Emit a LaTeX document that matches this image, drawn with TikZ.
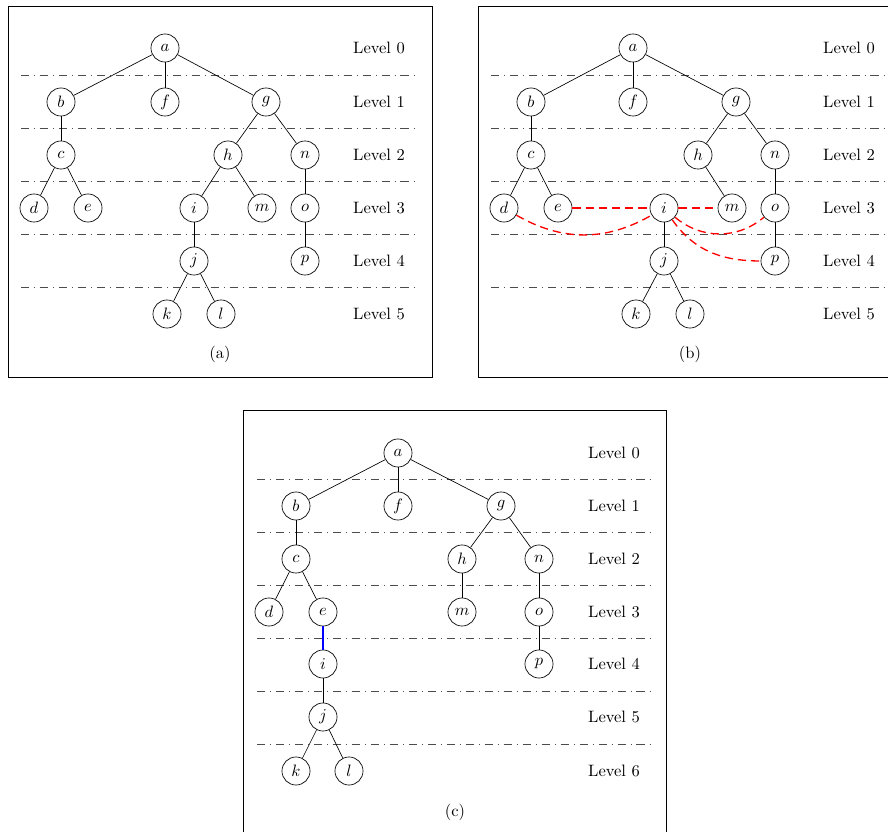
\documentclass[tikz,border=0pt]{standalone}
\usepackage{tikz}
\usetikzlibrary{positioning}

\begin{document}
\begin{tikzpicture}[x=0.0213cm,y=0.0213cm,
  vtx/.style={draw,circle,minimum size=17pt,inner sep=0pt},
  lvl/.style={black!70,dash pattern=on 5pt off 3pt on 0.5pt off 3pt},
  lien/.style={red,thick,dash pattern=on 5pt off 3pt},
  nouv/.style={blue,thick}
]
\clip (0,0) rectangle (888,-832);

% ---- (a) arbre de depart ----
\draw (8,-6) rectangle (432,-377);
\foreach \y in {75,128,181,234,287} \draw[lvl] (21,-\y) -- (418,-\y);
\foreach \n/\y in {0/48,1/102,2/155,3/208,4/261,5/314}
  \node (la-\n) at (379,-\y) {Level \n};
\node[vtx] (a-a) at (165,-48)  {$a$};
\node[vtx] (a-b) at (61,-102)  {$b$};
\node[vtx] (a-f) at (165,-102) {$f$};
\node[vtx] (a-g) at (266,-102) {$g$};
\node[vtx] (a-c) at (61,-155)  {$c$};
\node[vtx] (a-h) at (228,-155) {$h$};
\node[vtx] (a-n) at (305,-155) {$n$};
\node[vtx] (a-d) at (34,-208)  {$d$};
\node[vtx] (a-e) at (88,-208)  {$e$};
\node[vtx] (a-i) at (194,-208) {$i$};
\node[vtx] (a-m) at (262,-208) {$m$};
\node[vtx] (a-o) at (305,-208) {$o$};
\node[vtx] (a-j) at (194,-261) {$j$};
\node[vtx] (a-p) at (305,-261) {$p$};
\node[vtx] (a-k) at (167,-314) {$k$};
\node[vtx] (a-l) at (221,-314) {$l$};
\foreach \u/\v in {a/b,a/f,a/g,b/c,c/d,c/e,g/h,g/n,h/i,h/m,n/o,i/j,o/p,j/k,j/l}
  \draw (a-\u) -- (a-\v);
\node (cap-a) at (220,-354) {(a)};

% ---- (b) candidats pour i ----
\draw (478,-6) rectangle (902,-377);
\foreach \y in {75,128,181,234,287} \draw[lvl] (491,-\y) -- (888,-\y);
\foreach \n/\y in {0/48,1/102,2/155,3/208,4/261,5/314}
  \node (lb-\n) at (849,-\y) {Level \n};
\node[vtx] (b-a) at (633,-48)  {$a$};
\node[vtx] (b-b) at (531,-102) {$b$};
\node[vtx] (b-f) at (633,-102) {$f$};
\node[vtx] (b-g) at (736,-102) {$g$};
\node[vtx] (b-c) at (531,-155) {$c$};
\node[vtx] (b-h) at (698,-155) {$h$};
\node[vtx] (b-n) at (775,-155) {$n$};
\node[vtx] (b-d) at (504,-208) {$d$};
\node[vtx] (b-e) at (558,-208) {$e$};
\node[vtx] (b-i) at (664,-208) {$i$};
\node[vtx] (b-m) at (732,-208) {$m$};
\node[vtx] (b-o) at (775,-208) {$o$};
\node[vtx] (b-j) at (664,-261) {$j$};
\node[vtx] (b-p) at (775,-261) {$p$};
\node[vtx] (b-k) at (636,-314) {$k$};
\node[vtx] (b-l) at (690,-314) {$l$};
\foreach \u/\v in {a/b,a/f,a/g,b/c,c/d,c/e,g/h,g/n,h/m,n/o,i/j,o/p,j/k,j/l}
  \draw (b-\u) -- (b-\v);
\draw[lien] (b-e) -- (b-i);
\draw[lien] (b-i) -- (b-m);
\draw[lien] (b-d) to[bend right=30] (b-i);
\draw[lien] (b-i) to[bend right=40] (b-o);
\draw[lien] (b-i) to[out=-55,in=180] (b-p);
\node (cap-b) at (690,-354) {(b)};

% ---- (c) arbre apres greffe ----
\draw (243,-410) rectangle (666,-835);
\foreach \y in {479,532,585,638,691,744} \draw[lvl] (257,-\y) -- (652,-\y);
\foreach \n/\y in {0/453,1/506,2/559,3/612,4/664,5/717,6/771}
  \node (lc-\n) at (614,-\y) {Level \n};
\node[vtx] (c-a) at (398,-453) {$a$};
\node[vtx] (c-b) at (296,-506) {$b$};
\node[vtx] (c-f) at (398,-506) {$f$};
\node[vtx] (c-g) at (501,-506) {$g$};
\node[vtx] (c-c) at (296,-559) {$c$};
\node[vtx] (c-h) at (462,-559) {$h$};
\node[vtx] (c-n) at (539,-559) {$n$};
\node[vtx] (c-d) at (269,-612) {$d$};
\node[vtx] (c-e) at (323,-612) {$e$};
\node[vtx] (c-m) at (462,-612) {$m$};
\node[vtx] (c-o) at (539,-612) {$o$};
\node[vtx] (c-i) at (323,-664) {$i$};
\node[vtx] (c-p) at (539,-664) {$p$};
\node[vtx] (c-j) at (323,-717) {$j$};
\node[vtx] (c-k) at (296,-771) {$k$};
\node[vtx] (c-l) at (349,-771) {$l$};
\foreach \u/\v in {a/b,a/f,a/g,b/c,c/d,c/e,g/h,g/n,h/m,n/o,o/p,i/j,j/k,j/l}
  \draw (c-\u) -- (c-\v);
\draw[nouv] (c-e) -- (c-i);
\node (cap-c) at (455,-812) {(c)};
\end{tikzpicture}
\end{document}
